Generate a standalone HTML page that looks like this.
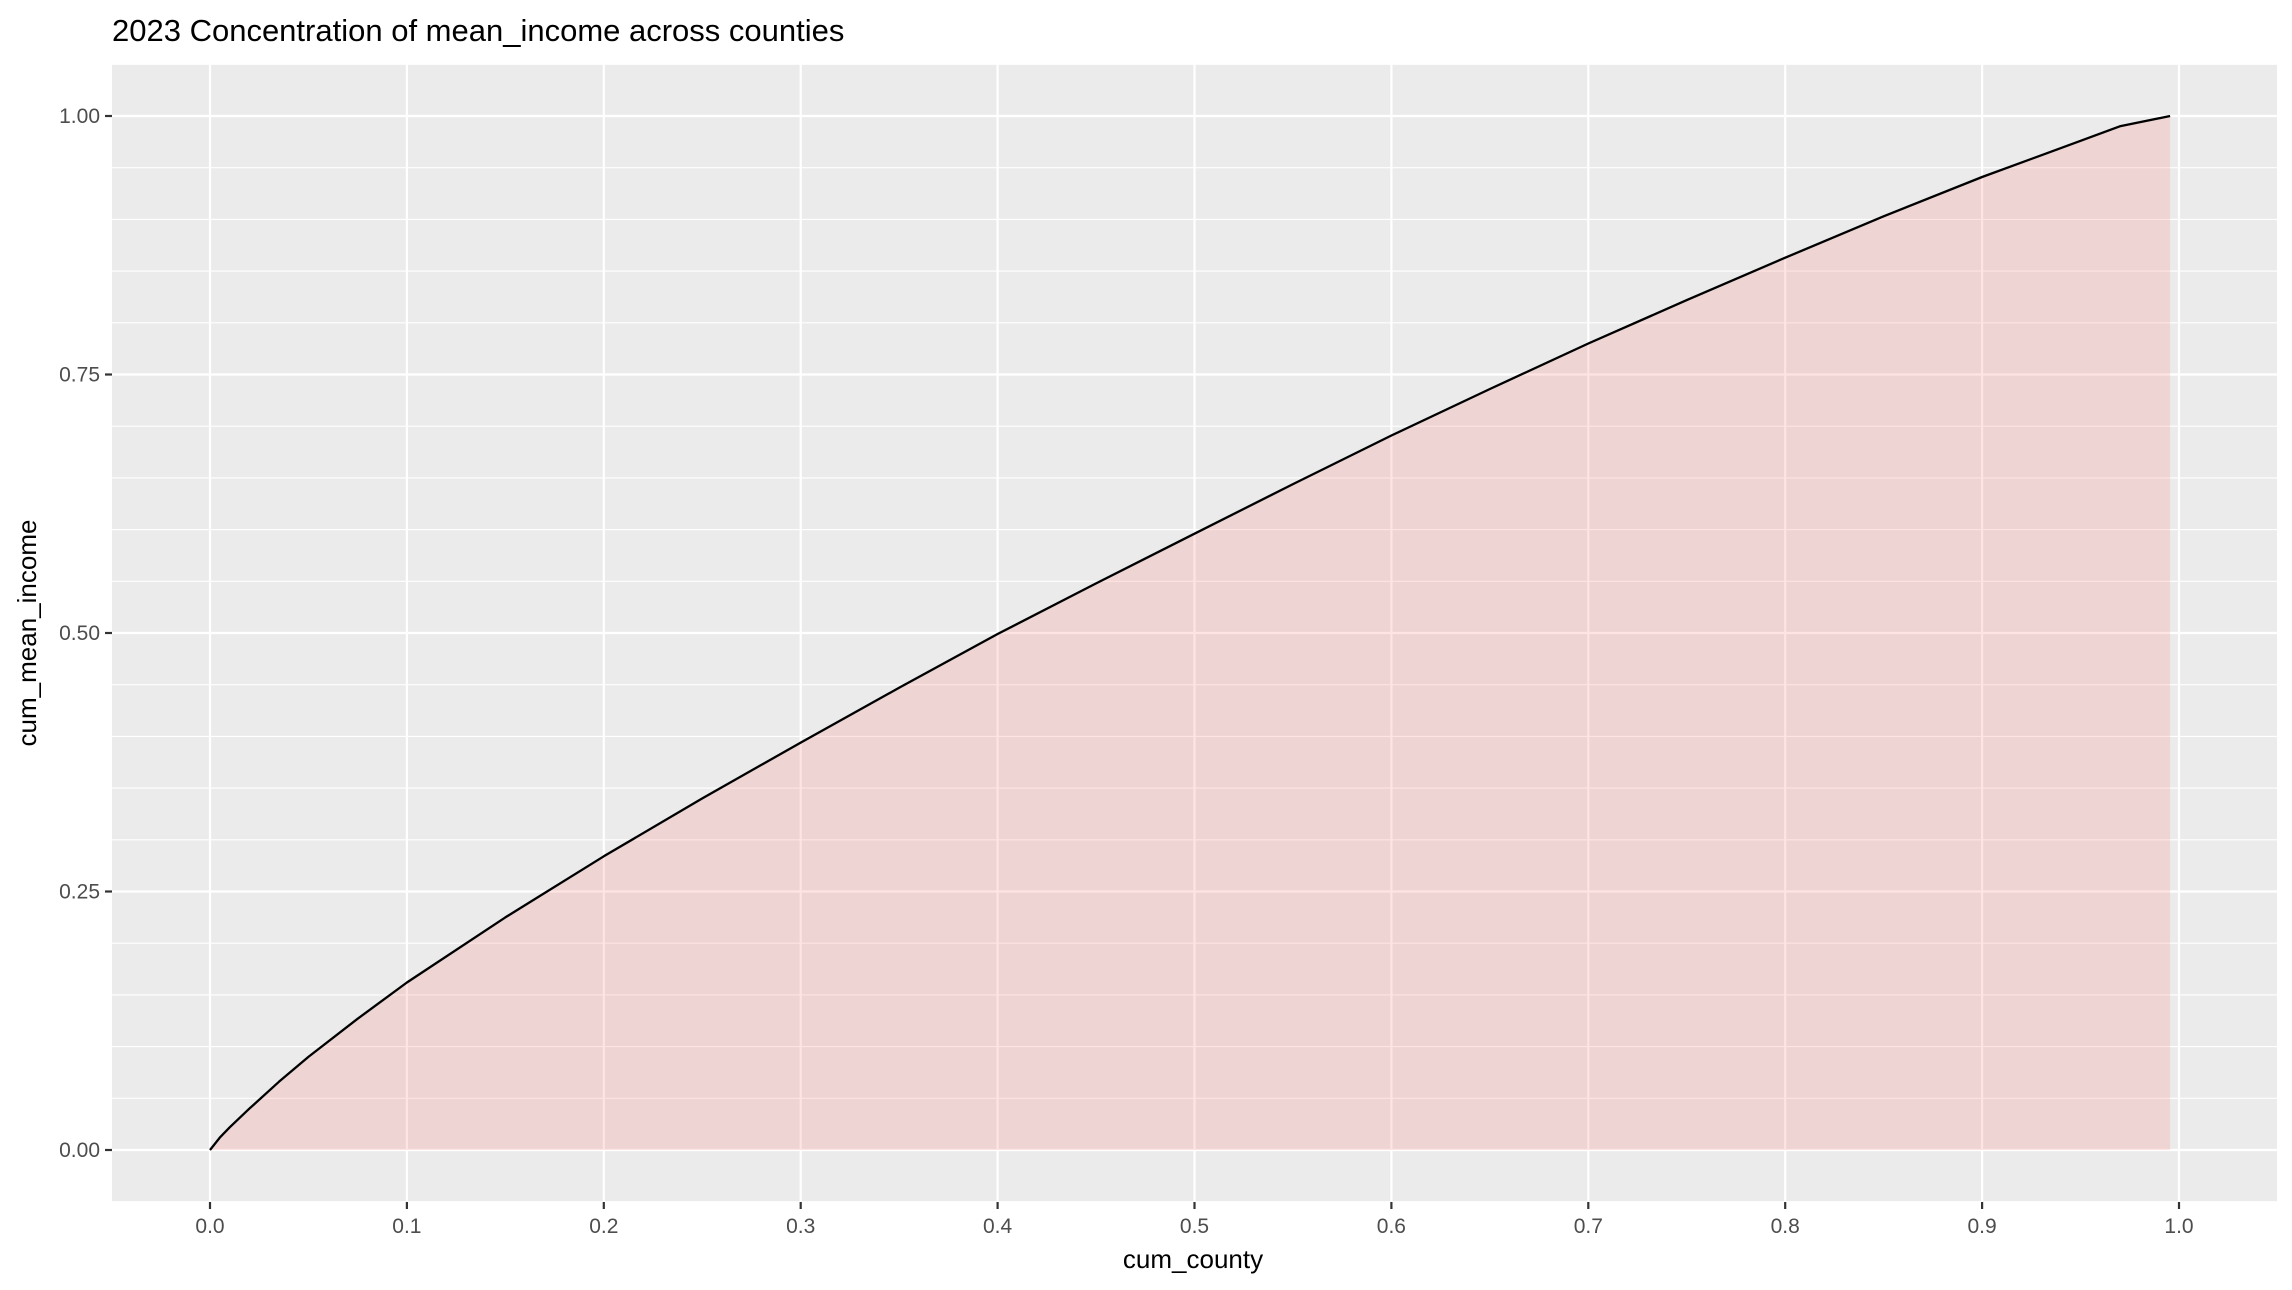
<!DOCTYPE html>
<html><head><meta charset="utf-8"><style>
html,body{margin:0;padding:0;background:#fff;}
svg{display:block;font-family:"Liberation Sans",sans-serif;}
</style></head><body>
<svg id="chart" width="2292" height="1290" viewBox="0 0 2292 1290" xmlns="http://www.w3.org/2000/svg">
<text x="112" y="41" font-size="31" fill="#000">2023 Concentration of mean_income across counties</text>
<rect x="112" y="64" width="2165" height="1138" fill="#ebebeb"/>
<g id="grid"></g>
<path id="area" fill="rgb(248,118,109)" fill-opacity="0.2"/>
<path id="line" fill="none" stroke="#000" stroke-width="2.3" stroke-linejoin="round"/>
<g id="axes"></g>
<text x="1193" y="1268" font-size="26" text-anchor="middle" fill="#000">cum_county</text>
<text transform="translate(36,633) rotate(-90)" font-size="26" text-anchor="middle" fill="#000">cum_mean_income</text>
</svg>
<script>
const xs = [0, 0.005, 0.01, 0.02, 0.035, 0.05, 0.075, 0.1, 0.15, 0.2, 0.25, 0.3, 0.35, 0.4, 0.45, 0.5, 0.55, 0.6, 0.65, 0.7, 0.75, 0.8, 0.85, 0.9, 0.93, 0.95, 0.97, 0.9955];
const ys = [0, 0.012, 0.022, 0.04, 0.066, 0.09, 0.127, 0.162, 0.225, 0.284, 0.34, 0.394, 0.447, 0.499, 0.548, 0.596, 0.644, 0.691, 0.736, 0.78, 0.822, 0.863, 0.903, 0.941, 0.962, 0.976, 0.99, 1.0];
const xTicks = [0,0.1,0.2,0.3,0.4,0.5,0.6,0.7,0.8,0.9,1.0];
const xTickLabels = ["0.0","0.1","0.2","0.3","0.4","0.5","0.6","0.7","0.8","0.9","1.0"];
const yTicks = [0,0.25,0.5,0.75,1.0];
const yTickLabels = ["0.00","0.25","0.50","0.75","1.00"];
const yMinor = [-0.05,0.05,0.1,0.15,0.2,0.3,0.35,0.4,0.45,0.55,0.6,0.65,0.7,0.8,0.85,0.9,0.95,1.05];

const X = v => 210 + v*1969;
const Y = v => 1150 - v*1034;
const NS = "http://www.w3.org/2000/svg";
const grid = document.getElementById('grid'), axes = document.getElementById('axes');
function ln(p,x1,y1,x2,y2,c,w){const l=document.createElementNS(NS,'line');l.setAttribute('x1',x1);l.setAttribute('y1',y1);l.setAttribute('x2',x2);l.setAttribute('y2',y2);l.setAttribute('stroke',c);l.setAttribute('stroke-width',w);p.appendChild(l);return l;}
yMinor.forEach(v=>{const y=Y(v); if(y<64||y>1202)return;
  const l=ln(grid,112,y,2277,y,'#fff',1.1);
  
  });
yTicks.forEach((v,i)=>{
  const l=ln(grid,112,Y(v),2277,Y(v),'#fff',2.2);
  
  
  const t=ln(axes,105,Y(v),112,Y(v),'#333',2.2);
  
  
  const tx=document.createElementNS(NS,'text');
  tx.setAttribute('x',100);tx.setAttribute('y',Y(v)+7);tx.setAttribute('text-anchor','end');
  tx.setAttribute('font-size','21');tx.setAttribute('fill','#4d4d4d');tx.textContent=yTickLabels[i];
  
  
  axes.appendChild(tx);
});
xTicks.forEach((v,i)=>{
  const l=ln(grid,X(v),64,X(v),1202,'#fff',2.2);
  
  
  const t=ln(axes,X(v),1202,X(v),1209,'#333',2.2);
  
  
  const tx=document.createElementNS(NS,'text');
  tx.setAttribute('x',X(v));tx.setAttribute('y',1233);tx.setAttribute('text-anchor','middle');
  tx.setAttribute('font-size','21');tx.setAttribute('fill','#4d4d4d');tx.textContent=xTickLabels[i];
  
  
  axes.appendChild(tx);
});
let d='';
xs.forEach((v,i)=>{d+=(i?'L':'M')+X(v).toFixed(1)+','+Y(ys[i]).toFixed(1);});
document.getElementById('line').setAttribute('d',d);
document.getElementById('area').setAttribute('d',d+'L'+X(xs[xs.length-1]).toFixed(1)+','+Y(0)+'L'+X(xs[0])+','+Y(0)+'Z');
</script>
</body></html>
